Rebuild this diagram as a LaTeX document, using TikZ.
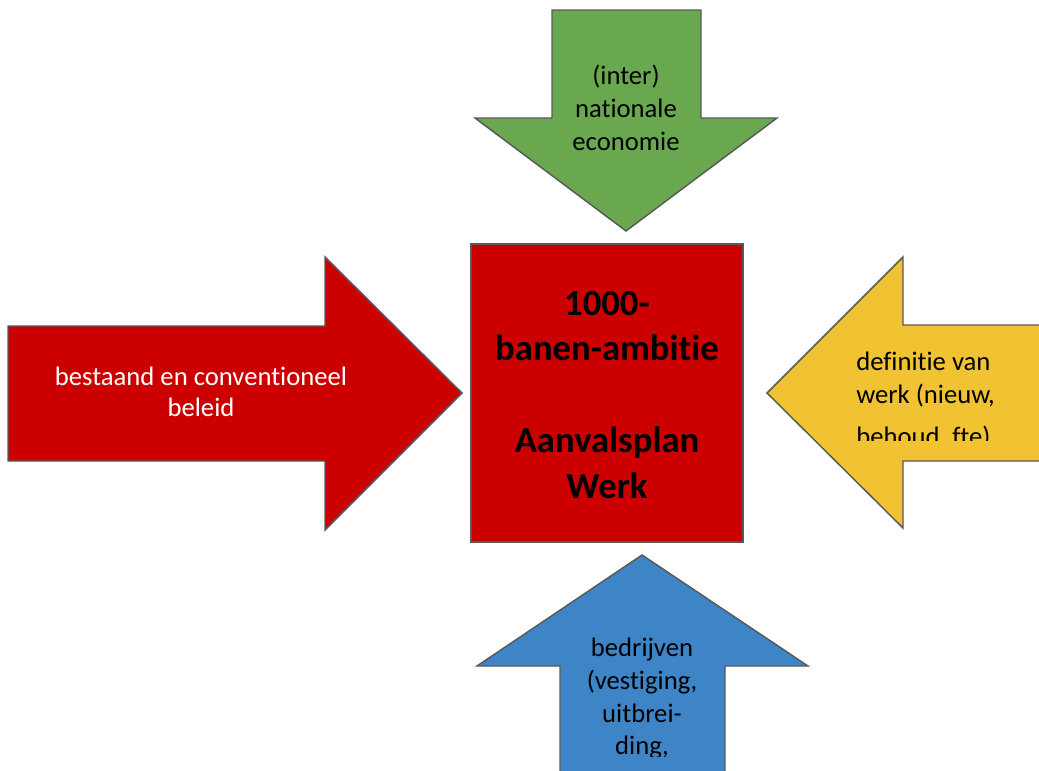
\documentclass[tikz,border=0pt]{standalone}
\usepackage{fontspec}
\setmainfont{Carlito}[Ligatures=CommonOff]
\definecolor{pijlrood}{HTML}{CC0000}
\definecolor{pijlgroen}{HTML}{6AA84F}
\definecolor{pijlgeel}{HTML}{F1C232}
\definecolor{pijlblauw}{HTML}{3D85C6}
\definecolor{rand}{HTML}{595959}

\begin{document}
\begin{tikzpicture}[x=0.75pt, y=-0.75pt,
    vorm/.style={draw=rand, line width=1.1pt, line join=miter},
    tekst/.style={inner sep=0pt, align=center, font=\fontsize{20}{24.5}\selectfont}]
            \clip (0,0) rectangle (1039,771);

            \filldraw[vorm, fill=pijlgroen] (552,10) -- (701,10) -- (701,118) -- (777,118) -- (626,231) -- (475,118) -- (552,118) -- cycle;
            \filldraw[vorm, fill=pijlrood] (8,326) -- (325,326) -- (325,257) -- (462,393) -- (325,530) -- (325,461) -- (8,461) -- cycle;
            \filldraw[vorm, fill=pijlgeel] (767,393) -- (903,257) -- (903,325) -- (1050,325) -- (1050,461) -- (903,461) -- (903,528) -- cycle;
            \filldraw[vorm, fill=pijlblauw] (642,555) -- (808,666) -- (725,666) -- (725,790) -- (560,790) -- (560,666) -- (477,666) -- cycle;
            \filldraw[vorm, fill=pijlrood] (471,244) rectangle (743,542);

            \node[tekst] (economie) at (626,108) {(inter)\\nationale\\economie};
            \node[tekst, text=white, font=\fontsize{20}{23.25}\selectfont] (beleid) at (201,392) {bestaand en conventioneel\\beleid};
            \node[tekst, font=\bfseries\fontsize{27.5}{34}\selectfont] (ambitie) at (607,395) {1000-\\banen-ambitie\\[35pt]Aanvalsplan\\Werk};

            \begin{scope}
                \clip (850,330) rectangle (1039,440);
                \node[tekst, align=left, anchor=north west] (werk) at (856,352) {definitie van\\werk (nieuw,\\[7pt]behoud, fte)};
            \end{scope}
            \begin{scope}
                \clip (560,630) rectangle (725,756);
                \node[tekst, anchor=north] (bedrijven) at (642,638) {bedrijven\\(vestiging,\\uitbrei-\\ding,};
            \end{scope}
        \end{tikzpicture}
\end{document}
